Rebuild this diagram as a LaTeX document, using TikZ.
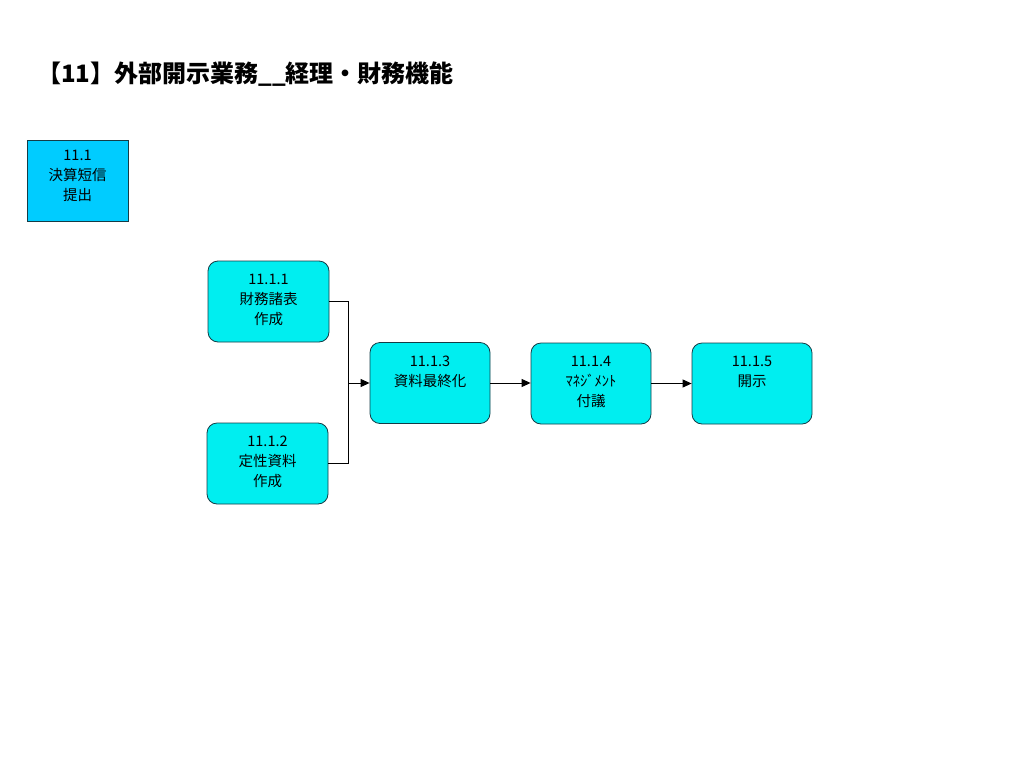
\documentclass[tikz,border=0pt]{standalone}
\usepackage{fontspec}
\setmainfont{Noto Sans CJK JP}
\usetikzlibrary{arrows.meta}
\definecolor{topblue}{RGB}{0,204,255}
\definecolor{boxcyan}{RGB}{0,238,240}
\definecolor{boxedge}{RGB}{20,60,70}
\begin{document}
\begin{tikzpicture}[x=1pt,y=-1pt,
  sqbox/.style={draw=boxedge,line width=0.8pt,fill=topblue,minimum width=101pt,minimum height=81pt,inner sep=0pt},
  rbox/.style={draw=boxedge,line width=0.8pt,fill=boxcyan,rounded corners=10pt,minimum width=121pt,minimum height=81pt,inner sep=0pt},
  lbl/.style={font=\fontsize{14.5}{20}\selectfont,align=center,anchor=north,inner sep=0pt},
  conn/.style={draw=black,line width=1pt},
  arr/.style={conn,-{Triangle[length=9pt,width=8pt]}}]
\useasboundingbox (0,0) rectangle (1024,768);
\node[font=\fontsize{24}{28}\selectfont\bfseries,anchor=west,inner sep=0pt] (title) at (37,74) {【11】外部開示業務\_\_経理・財務機能};
\node[sqbox] (n1) at (77.5,180.5) {};
\node[lbl] at (77.5,150) {11.1\\決算短信\\提出};
\node[rbox] (a) at (268.5,301.5) {};
\node[lbl] at (268.5,274) {11.1.1\\財務諸表\\作成};
\node[rbox] (b) at (267.5,463.5) {};
\node[lbl] at (267.5,436) {11.1.2\\定性資料\\作成};
\node[rbox,minimum width=120pt] (c) at (430,383) {};
\node[lbl] at (430,356) {11.1.3\\資料最終化};
\node[rbox,minimum width=120pt] (d) at (591,383.5) {};
\node[lbl] at (591,356) {11.1.4\\ﾏﾈｼﾞﾒﾝﾄ\\付議};
\node[rbox,minimum width=120pt] (e) at (752,383.5) {};
\node[lbl] at (752,356) {11.1.5\\開示};
\coordinate (j) at (348,383);
\draw[conn] (a.east) -| (j);
\draw[conn] (b.east) -| (j);
\draw[arr] (j) -- (c.west);
\draw[arr] (c.east) -- (d.west |- c.east);
\draw[arr] (d.east) -- (e.west);
\end{tikzpicture}
\end{document}
